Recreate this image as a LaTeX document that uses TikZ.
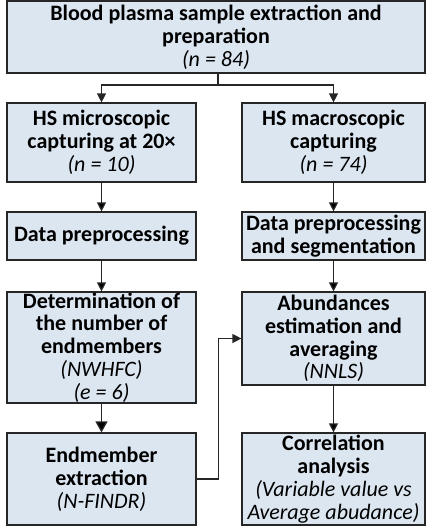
\documentclass[tikz,border=0pt]{standalone}
\usepackage{fontspec}
\setmainfont{Carlito}
\usepackage{tikz}
\usetikzlibrary{arrows.meta}

\definecolor{boxfill}{RGB}{220,230,241}

\tikzset{
  stage/.style={shape=rectangle,draw=black!85,line width=1.2pt,fill=boxfill,
    align=center,inner sep=0pt,font=\fontsize{22}{22.8}\selectfont},
  flow/.style={line width=1.3pt,draw=black!85,-{Triangle[length=9pt,width=9pt]}},
}

\begin{document}
\begin{tikzpicture}[x=1pt,y=-1pt]%
                \useasboundingbox (0,0) rectangle (426,530);

                \node[stage,minimum width=418pt,minimum height=72pt] (top) at (216,37) {\textbf{Blood plasma sample extraction and}\\\textbf{preparation}\\\textit{(n = 84)}};

                \node[stage,minimum width=189pt,minimum height=79pt] (micro) at (101.5,142.5) {\textbf{HS microscopic}\\\textbf{capturing at 20×}\\\textit{(n = 10)}};
                \node[stage,minimum width=183pt,minimum height=79pt] (macro) at (333.5,142.5) {\textbf{HS macroscopic}\\\textbf{capturing}\\\textit{(n = 74)}};

                \node[stage,minimum width=189pt,minimum height=48pt] (prepL) at (101.5,236) {\textbf{Data preprocessing}};
                \node[stage,minimum width=183pt,minimum height=48pt] (prepR) at (333.5,236) {\textbf{Data preprocessing}\\\textbf{and segmentation}};

                \node[stage,minimum width=189pt,minimum height=111pt] (determ) at (101.5,347.5) {\textbf{Determination of}\\\textbf{the number of}\\\textbf{endmembers}\\\textit{(NWHFC)}\\\textit{(e = 6)}};
                \node[stage,minimum width=183pt,minimum height=93pt] (abund) at (333.5,338.5) {\textbf{Abundances}\\\textbf{estimation and}\\\textbf{averaging}\\\textit{(NNLS)}};

                \node[stage,minimum width=189pt,minimum height=92pt] (extract) at (101.5,479) {\textbf{Endmember}\\\textbf{extraction}\\\textit{(N-FINDR)}};
                \node[stage,minimum width=183pt,minimum height=92pt] (correl) at (333.5,479) {\textbf{Correlation}\\\textbf{analysis}\\\textit{(Variable value vs}\\\textit{Average abudance)}};

                \coordinate (split) at (218,85);
                \draw [line width=1.3pt,draw=black!85] (top.south -| split) -- (split);
                \path [flow] (split) -| (micro.north);
                \path [flow] (split) -| (macro.north);
                \path [flow] (micro) edge (prepL);
                \path [flow] (macro) edge (prepR);
                \path [flow] (prepL) edge (determ);
                \path [flow] (prepR) edge (abund);
                \path [flow,-{Triangle[length=11pt,width=12pt]}] (determ) edge (extract);
                \path [flow] (abund) edge (correl);
                \path [flow] (extract.east) -- ++(22,0) |- (abund.west);
            \end{tikzpicture}
\end{document}
